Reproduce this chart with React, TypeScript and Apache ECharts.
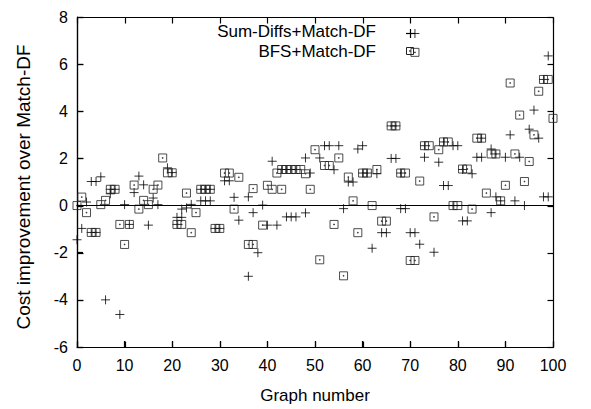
import React, { useEffect, useRef } from "react";
import * as echarts from "echarts";

const xTicks = [0, 10, 20, 30, 40, 50, 60, 70, 80, 90, 100];
const yTicks = [-6, -4, -2, 0, 2, 4, 6, 8];
const seriesNames = ["Sum-Diffs+Match-DF", "BFS+Match-DF"];

// Sum-Diffs+Match-DF: [graph number, cost improvement]
const sumDiffsPoints: [number, number][] = [
  [0, -1.45], [1, -0.97], [2, 0.15], [3, 1.02], [4, 1.02], [3, -1.14], [4, -1.14], [5, 1.22],
  [6, -4.0], [7, 0.69], [8, 0.69], [7, 0.5], [9, -4.62], [10, 0.04], [11, -0.8], [12, 0.55],
  [13, 1.25], [14, 0.88], [15, -0.83], [16, 0.32], [17, 0.04], [19, 1.6], [20, 1.4], [21, -0.8],
  [21, -0.5], [22, -0.5], [22, -0.15], [23, -0.1], [24, 0.05], [26, 0.69], [27, 0.69], [28, 0.69],
  [26, 0.2], [27, 0.2], [28, 0.2], [29, -0.97], [30, -0.97], [31, 1.05], [32, 1.05], [33, 0.35],
  [34, -0.62], [36, 0.37], [36, -3.0], [37, -0.3], [38, -2.0], [39, 0.02], [40, -0.83], [41, 1.88],
  [42, -0.83], [43, 1.53], [44, 1.53], [45, 1.53], [46, 1.53], [44, -0.48], [45, -0.48], [46, -0.48],
  [48, 2.02], [48, -0.31], [49, 1.38], [51, 2.02], [52, 2.54], [53, 2.54], [55, 2.54], [54, 1.52],
  [56, -0.13], [57, 1.0], [58, 1.0], [59, 2.4], [60, 2.54], [60, 1.38], [61, 1.38], [62, -1.81],
  [63, 1.35], [64, -1.15], [65, -1.15], [66, 2.0], [67, 2.0], [66, 3.38], [67, 3.38], [68, -0.13],
  [69, -0.13], [68, 1.38], [70, -1.15], [71, -1.15], [71, 7.3], [72, -1.64], [73, 2.05], [73, 2.54],
  [75, -1.98], [76, 1.84], [77, 0.85], [78, 0.85], [77, 2.7], [79, 2.54], [80, 2.54], [79, 0.0],
  [81, -0.65], [82, -0.65], [81, 1.53], [83, 1.35], [84, 2.05], [85, 2.05], [85, 2.86], [87, 2.4],
  [87, -0.3], [88, 0.37], [88, 2.19], [89, 0.2], [90, 2.05], [91, 3.0], [92, 0.2], [93, 2.05],
  [94, 0.0], [95, 3.24], [96, 4.05], [97, 2.86], [98, 0.37], [99, 0.37], [99, 6.35], [98, 5.35],
];

// BFS+Match-DF: [graph number, cost improvement]
const bfsPoints: [number, number][] = [
  [0, 0.0], [1, 0.36], [2, -0.3], [3, -1.14], [4, -1.14], [5, 0.04], [6, 0.22], [7, 0.69],
  [8, 0.69], [9, -0.8], [10, -1.65], [11, -0.8], [12, 0.87], [13, -0.15], [14, 0.22], [15, 0.04],
  [16, 0.69], [17, 0.87], [18, 2.02], [19, 1.39], [20, 1.39], [21, -0.8], [22, -0.8], [23, 0.53],
  [24, -1.15], [25, -0.3], [26, 0.69], [27, 0.69], [28, 0.69], [29, -0.97], [30, -0.97], [31, 1.38],
  [32, 1.38], [33, -0.15], [34, 1.2], [36, -1.65], [37, -1.65], [37, 0.72], [39, -0.83], [40, 0.86],
  [41, 0.69], [42, 1.38], [43, 0.69], [43, 1.53], [44, 1.53], [45, 1.53], [46, 1.53], [47, 1.53],
  [48, 1.35], [49, 0.69], [50, 2.37], [51, -2.3], [52, 1.7], [53, 1.7], [54, -0.8], [55, 2.02],
  [56, -2.98], [57, 1.21], [58, 0.2], [59, -1.15], [60, 1.38], [61, 1.38], [62, 0.0], [63, 1.53],
  [64, -0.66], [65, -0.66], [66, 3.38], [67, 3.38], [68, 1.38], [69, 1.38], [70, -2.33], [71, -2.33],
  [71, 6.5], [72, 1.04], [73, 2.54], [74, 2.54], [75, -0.48], [76, 2.37], [77, 2.7], [78, 2.7],
  [79, 0.0], [80, 0.0], [81, 1.55], [82, 1.55], [83, -0.15], [84, 2.86], [85, 2.86], [86, 0.53],
  [87, 2.19], [88, 2.19], [89, 0.2], [90, 0.86], [91, 5.2], [92, 2.19], [93, 3.84], [94, 1.02],
  [95, 1.87], [96, 3.0], [97, 4.85], [98, 5.35], [99, 5.35], [100, 3.7],
];

const PLUS = "path://M0,5L10,5M5,0L5,10";
const SQUARE = "path://M0,0L10,0L10,10L0,10ZM4.5,4.5L5.5,4.5L5.5,5.5L4.5,5.5Z";
const FONT = "'Liberation Sans', Arial, Helvetica, sans-serif";
const TICK_LEN = 6;

export default function App() {
  const ref = useRef<HTMLDivElement>(null);
  useEffect(() => {
    if (!ref.current) return;
    const chart = echarts.init(ref.current, undefined, { renderer: "svg" });
    chart.setOption({
      animation: false,
      backgroundColor: "#fff",
      grid: { left: 77, right: 38, top: 17, bottom: 61 },
      xAxis: {
        type: "value", min: 0, max: 100, interval: 10,
        name: "Graph number", nameLocation: "middle", nameGap: 40,
        nameTextStyle: { fontFamily: FONT, fontSize: 17, color: "#000" },
        axisLine: { show: true, onZero: false, lineStyle: { color: "#000", width: 1.2 } },
        axisTick: { show: true, inside: true, length: TICK_LEN, lineStyle: { color: "#000", width: 1.2 } },
        splitLine: { show: false },
        axisLabel: {
          fontFamily: FONT, fontSize: 16, color: "#000", margin: 10,
          formatter: (v: number) => (xTicks.includes(v) ? String(v) : ""),
        },
      },
      yAxis: {
        type: "value", min: -6, max: 8, interval: 2,
        name: "Cost improvement over Match-DF", nameLocation: "middle", nameGap: 44,
        nameTextStyle: { fontFamily: FONT, fontSize: 19, color: "#000", padding: [0, 10, 0, 0] },
        axisLine: { show: true, onZero: false, lineStyle: { color: "#000", width: 1.2 } },
        axisTick: { show: true, inside: true, length: TICK_LEN, lineStyle: { color: "#000", width: 1.2 } },
        splitLine: { show: false },
        axisLabel: {
          fontFamily: FONT, fontSize: 16, color: "#000", margin: 9,
          formatter: (v: number) => (yTicks.includes(v) ? String(v) : ""),
        },
      },
      series: [
        {
          name: seriesNames[0], type: "scatter", data: sumDiffsPoints,
          symbol: PLUS, symbolSize: 9,
          itemStyle: { color: "none", borderColor: "#000", borderWidth: 1 },
          markLine: {
            silent: true, symbol: ["none", "none"],
            label: { show: false },
            lineStyle: { color: "#000", width: 1, type: "solid" },
            data: [{ yAxis: 0 }],
          },
        },
        {
          name: seriesNames[1], type: "scatter", data: bfsPoints,
          symbol: SQUARE, symbolSize: 8,
          itemStyle: { color: "none", borderColor: "#222", borderWidth: 1 },
        },
      ],
    });

    // Frame with ticks on all sides, positioned through the chart's own scales.
    const px = (x: number, y: number) => chart.convertToPixel({ seriesIndex: 0 }, [x, y]) as number[];
    const [x0, yTop] = px(0, 8);
    const [x1, yBot] = px(100, -6);
    const r = (v: number) => Math.round(v) + 0.5;
    const L = r(x0), R = r(x1), T = r(yTop), B = r(yBot);
    const ln = (a: number, b: number, c: number, d: number) => ({
      type: "line", silent: true,
      shape: { x1: a, y1: b, x2: c, y2: d },
      style: { stroke: "#000", lineWidth: 1.2 },
    });
    const els: any[] = [ln(L, T, R, T), ln(R, T, R, B), ln(L, B, R, B), ln(L, T, L, B)];
    xTicks.forEach((t) => {
      const x = r(px(t, 0)[0]);
      els.push(ln(x, T, x, T + TICK_LEN));
      els.push(ln(x, B, x, B - TICK_LEN));
    });
    yTicks.forEach((t) => {
      const y = r(px(0, t)[1]);
      els.push(ln(R, y, R - TICK_LEN, y));
      els.push(ln(L, y, L + TICK_LEN, y));
    });
    // Legend (text right-aligned, key symbol on the right like the reference)
    els.push(
      { type: "text", x: 376, y: 31.5, style: { text: seriesNames[0], fontFamily: FONT, fontSize: 17, fill: "#000", align: "right", verticalAlign: "middle" } },
      { type: "text", x: 376, y: 51.5, style: { text: seriesNames[1], fontFamily: FONT, fontSize: 17, fill: "#000", align: "right", verticalAlign: "middle" } },
      ln(406, 33.5, 415, 33.5),
      ln(410.5, 29, 410.5, 38),
      { type: "rect", shape: { x: 406.5, y: 47.5, width: 7, height: 7 }, style: { fill: "none", stroke: "#222", lineWidth: 1 } },
      { type: "rect", shape: { x: 409.5, y: 50.5, width: 1, height: 1 }, style: { fill: "#222", stroke: "#222", lineWidth: 0.5 } },
    );
    chart.setOption({ graphic: els });
    return () => chart.dispose();
  }, []);
  return <div ref={ref} style={{ width: 591, height: 409, position: "absolute", left: 0, top: 0 }} />;
}
